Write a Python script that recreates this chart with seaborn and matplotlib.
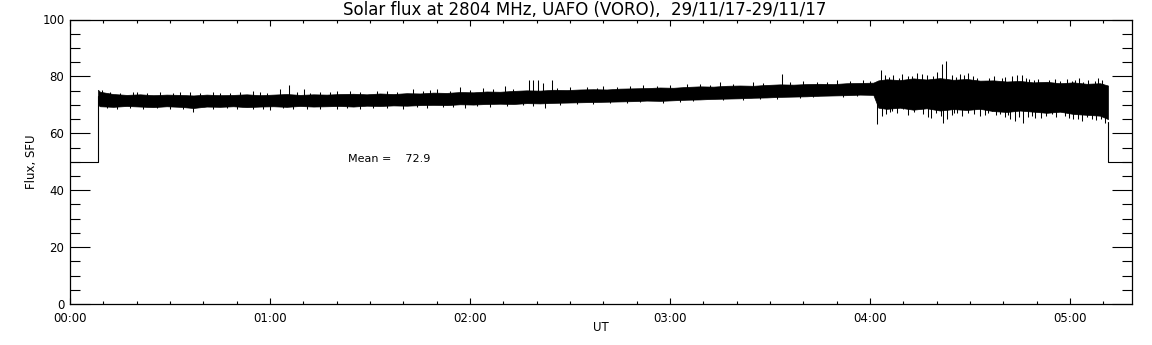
import matplotlib

matplotlib.use('Agg')

import matplotlib.pyplot as plt
import matplotlib.ticker as mticker
import seaborn as sns
import numpy as np
import pandas as pd


TITLE = 'Solar flux at 2804 MHz, UAFO (VORO),  29/11/17-29/11/17'

# time in minutes after 00:00 UT, flux in SFU
band_t = [
    8.4, 9, 13, 17, 21, 25, 29, 33, 37, 41,
    45, 49, 53, 57, 61, 65, 69, 73, 77,
    81, 85, 89, 93, 97, 101, 105, 109, 113,
    117, 121, 125, 129, 133, 137, 141, 145, 149,
    153, 157, 161, 165, 169, 173, 177, 181, 185,
    189, 193, 197, 201, 205, 209, 213, 217, 221,
    225, 229, 233, 237, 241, 242.5,
    245, 249, 253, 257, 261, 265, 269, 273, 277,
    281, 285, 289, 293, 297, 301, 305, 309, 311.4,
]

band_hi = [
    75.3, 74.6, 73.8, 73.5, 73.7, 73.4, 73.6, 73.5, 73.3, 73.6,
    73.4, 73.5, 73.7, 73.4, 73.6, 73.8, 73.5, 73.7, 73.6,
    73.8, 73.9, 73.7, 74.0, 73.8, 74.1, 74.0, 74.3, 74.2,
    74.5, 74.4, 74.7, 74.6, 74.9, 75.1, 75.0, 75.3, 75.2,
    75.4, 75.5, 75.4, 75.7, 75.8, 75.9, 76.1, 76.0, 76.3,
    76.5, 76.4, 76.7, 76.8, 76.7, 77.0, 77.2, 77.1, 77.3,
    77.4, 77.3, 77.6, 77.7, 77.8, 78.6,
    79.0, 78.7, 79.3, 78.9, 79.4, 78.8, 79.1, 78.5, 78.6,
    78.2, 78.4, 77.9, 78.1, 77.6, 77.9, 77.4, 77.6, 76.8,
]

band_lo = [
    70.0, 69.5, 69.3, 69.6, 69.4, 69.2, 69.5, 69.3, 68.9, 69.4,
    69.3, 69.5, 69.2, 69.4, 69.5, 69.3, 69.6, 69.4, 69.5,
    69.6, 69.4, 69.7, 69.6, 69.8, 69.7, 69.9, 70.0, 69.9,
    70.2, 70.1, 70.3, 70.4, 70.3, 70.6, 70.5, 70.7, 70.8,
    70.9, 71.0, 71.1, 71.2, 71.3, 71.5, 71.4, 71.6, 71.8,
    71.9, 72.1, 72.2, 72.3, 72.5, 72.6, 72.8, 72.9, 73.0,
    73.2, 73.3, 73.4, 73.6, 73.5, 69.0,
    68.6, 69.0, 68.3, 68.8, 68.0, 68.5, 68.2, 68.6, 67.8,
    67.5, 68.0, 67.6, 67.2, 67.6, 66.8, 66.5, 66.2, 65.0,
]

# isolated spikes above / below the band
spike_up_t = [
    9.5, 20, 33, 45, 55, 63, 65.7, 70.2, 80, 92,
    103, 110, 117, 124, 130.5, 137.7, 139, 140.5, 142, 144.6,
    150, 160, 172, 185, 195, 205, 213.6, 220, 230, 238,
    243.2, 247, 248.8, 251.4, 254, 257, 261.5, 262.8, 267, 269.5,
    272, 274.5, 278, 280.5, 284, 285.6, 286.8, 292.5, 301.5, 304,
    307.5, 310,
    244.5, 245.8, 249.5, 252.6, 255.5, 258.8, 260.2, 264.5, 265.8, 268.2,
    270.8, 275.8, 277.2, 279.5, 282.5, 287.8, 289.2, 290.5, 293.8, 295.5,
    297.0, 299.0, 300.5, 302.8, 305.5, 308.5, 309.5,
]
spike_up_v = [
    75.3, 74.4, 74.6, 74.3, 74.8, 75.5, 77.1, 75.7, 74.9, 75.0,
    75.4, 75.6, 76.2, 75.8, 76.8, 78.9, 78.7, 78.6, 77.6, 78.9,
    76.4, 76.6, 77.0, 77.4, 77.9, 78.2, 80.7, 78.5, 78.6, 78.9,
    82.1, 80.4, 79.5, 80.0, 81.2, 80.4, 84.5, 85.5, 81.0, 81.2,
    79.3, 78.5, 78.0, 79.8, 80.4, 80.4, 79.3, 77.4, 78.6, 78.0,
    78.3, 77.4,
    80.6, 79.8, 81.0, 80.2, 80.8, 80.0, 81.4, 80.5, 79.9, 80.6,
    80.1, 79.6, 80.3, 79.4, 80.0, 79.0, 78.7, 79.2, 78.9, 79.2,
    78.5, 79.0, 78.4, 79.3, 78.8, 79.5, 78.9,
]

spike_dn_t = [
    37, 60, 80, 100, 118.5, 142.5,
    242, 243.6, 246.7, 250, 254.4, 258.3, 262, 263, 266, 269.5,
    273, 276.5, 279, 282, 283.5, 286, 289.5, 294.6, 297.6, 301,
    303.6, 306.6, 310.5,
    244.8, 245.9, 248.2, 251.5, 253.2, 256.0, 257.3, 259.8, 261.2, 264.6,
    265.2, 267.7, 271.2, 274.4, 275.5, 277.8, 280.6, 281.4, 284.6, 287.4,
    288.6, 291.2, 292.8, 295.8, 298.6, 299.8, 302.4, 305.2, 307.8, 309.2,
]
spike_dn_v = [
    67.6, 68.3, 68.6, 68.7, 69.0, 69.0,
    63.1, 66.1, 67.9, 68.5, 69.0, 65.5, 63.7, 64.9, 67.3, 67.3,
    66.1, 67.9, 66.7, 64.9, 64.3, 63.7, 65.5, 66.7, 68.5, 64.9,
    64.3, 64.9, 63.7,
    66.8, 67.5, 67.0, 66.5, 67.4, 66.9, 65.8, 67.2, 66.0, 66.6,
    67.0, 66.2, 66.8, 66.5, 67.1, 66.3, 65.9, 66.4, 65.6, 65.8,
    66.2, 65.4, 66.1, 65.7, 66.0, 65.3, 65.1, 65.6, 64.8, 65.2,
]

# small ragged edges of the quiet part
fuzz_up_t = [
    12, 15, 19, 23, 27, 31, 36, 39, 43, 48,
    51, 57, 59, 68, 72, 75, 78, 84, 87, 95,
    98, 106, 108, 114, 120, 127, 133, 146, 155, 158,
    164, 168, 176, 180, 189, 192, 199, 208, 216, 224,
    227, 234, 240,
]
fuzz_up_v = [
    74.5, 74.2, 74.6, 74.3, 74.5, 74.1, 74.4, 74.2, 74.5, 74.3,
    74.4, 74.6, 74.2, 74.5, 74.3, 74.6, 74.4, 74.7, 74.5, 74.8,
    74.6, 74.9, 75.1, 75.0, 75.3, 75.4, 75.7, 75.9, 76.2, 76.0,
    76.4, 76.6, 76.7, 76.9, 77.2, 77.0, 77.5, 77.8, 77.9, 78.1,
    78.0, 78.3, 78.4,
]

fuzz_dn_t = [
    11, 14, 18, 22, 26, 30, 34, 43, 47, 50,
    55, 58, 64, 67, 71, 75, 83, 87, 91, 95,
    104, 107, 112, 115, 122, 126, 131, 136, 139, 147,
    152, 157, 162, 167, 171, 178, 183, 187, 196, 202,
    207, 212, 219, 223, 232, 236,
]
fuzz_dn_v = [
    68.8, 68.7, 68.9, 68.6, 68.8, 68.5, 68.7, 68.6, 68.8, 68.4,
    68.7, 68.6, 68.8, 68.5, 68.7, 68.6, 68.9, 68.7, 68.8, 68.9,
    69.1, 69.0, 69.3, 69.2, 69.5, 69.4, 69.6, 69.8, 69.5, 70.0,
    70.2, 70.3, 70.5, 70.6, 70.9, 70.8, 71.1, 71.3, 71.6, 71.8,
    72.0, 72.2, 72.3, 72.6, 72.8, 73.0,
]

lead_t = [0, 8.4, 8.4]
lead_v = [50, 50, 73]

tail_t = [311.4, 311.4, 318.6]
tail_v = [64, 50, 50]

mean_flux = 72.9

hour_ticks = [0, 60, 120, 180, 240, 300]
hour_labels = ['00:00', '01:00', '02:00', '03:00', '04:00', '05:00']


sns.set_style(
    'ticks',
    rc={
        'text.color': 'black',
        'axes.labelcolor': 'black',
        'xtick.color': 'black',
        'ytick.color': 'black',
        'axes.edgecolor': 'black',
    },
)

plt.rcParams['font.family'] = ['DejaVu Sans']

fig = plt.figure(
    figsize=(11.52, 3.45),
    dpi=100,
)

ax = fig.add_axes(
    [70 / 1152, 41 / 345, 1062 / 1152, 284.5 / 345],
)

band = pd.DataFrame({
    't': band_t,
    'hi': band_hi,
    'lo': band_lo,
})

ax.fill_between(
    band['t'],
    band['lo'],
    band['hi'],
    color='black',
    linewidth=0.5,
    edgecolor='black',
)

mid = (band['hi'] + band['lo']) / 2

for ts, vs in [
    (spike_up_t, spike_up_v),
    (spike_dn_t, spike_dn_v),
    (fuzz_up_t, fuzz_up_v),
    (fuzz_dn_t, fuzz_dn_v),
]:

    base = np.interp(ts, band['t'], mid)

    ax.vlines(
        ts,
        base,
        vs,
        color='black',
        linewidth=0.75,
    )

for xs, ys in [(lead_t, lead_v), (tail_t, tail_v)]:

    sns.lineplot(
        x=xs,
        y=ys,
        sort=False,
        estimator=None,
        color='black',
        linewidth=0.8,
        ax=ax,
    )

ax.text(
    83.4,
    51,
    f'Mean =    {mean_flux}',
    fontsize=8,
    va='center',
    ha='left',
)

ax.set_xlim(0, 318.6)
ax.set_ylim(0, 100)

ax.set_xticks(hour_ticks)
ax.set_xticklabels(hour_labels)
ax.xaxis.set_minor_locator(mticker.MultipleLocator(10))

ax.yaxis.set_major_locator(mticker.MultipleLocator(20))
ax.yaxis.set_minor_locator(mticker.MultipleLocator(5))

for side in ['top', 'right', 'bottom', 'left']:

    ax.spines[side].set_visible(True)
    ax.spines[side].set_linewidth(0.9)

ax.tick_params(
    axis='x',
    which='major',
    direction='in',
    length=4,
    width=0.8,
    top=True,
    bottom=True,
    labelsize=8.5,
    pad=6,
)

ax.tick_params(
    axis='x',
    which='minor',
    direction='in',
    length=2,
    width=0.8,
    top=True,
    bottom=True,
)

ax.tick_params(
    axis='y',
    which='major',
    direction='in',
    length=14.4,
    width=0.8,
    left=True,
    right=True,
    labelsize=8.5,
    pad=4,
)

ax.tick_params(
    axis='y',
    which='minor',
    direction='in',
    length=7.2,
    width=0.8,
    left=True,
    right=True,
)

ax.set_title(
    TITLE,
    fontsize=12,
    pad=3,
    x=0.485,
)

ax.set_xlabel(
    'UT',
    fontsize=8.5,
    labelpad=-3,
)

ax.set_ylabel(
    'Flux, SFU',
    fontsize=8.5,
    labelpad=3,
)

fig.savefig(
    'out.png',
    dpi=100,
    facecolor='white',
)

plt.close(fig)
